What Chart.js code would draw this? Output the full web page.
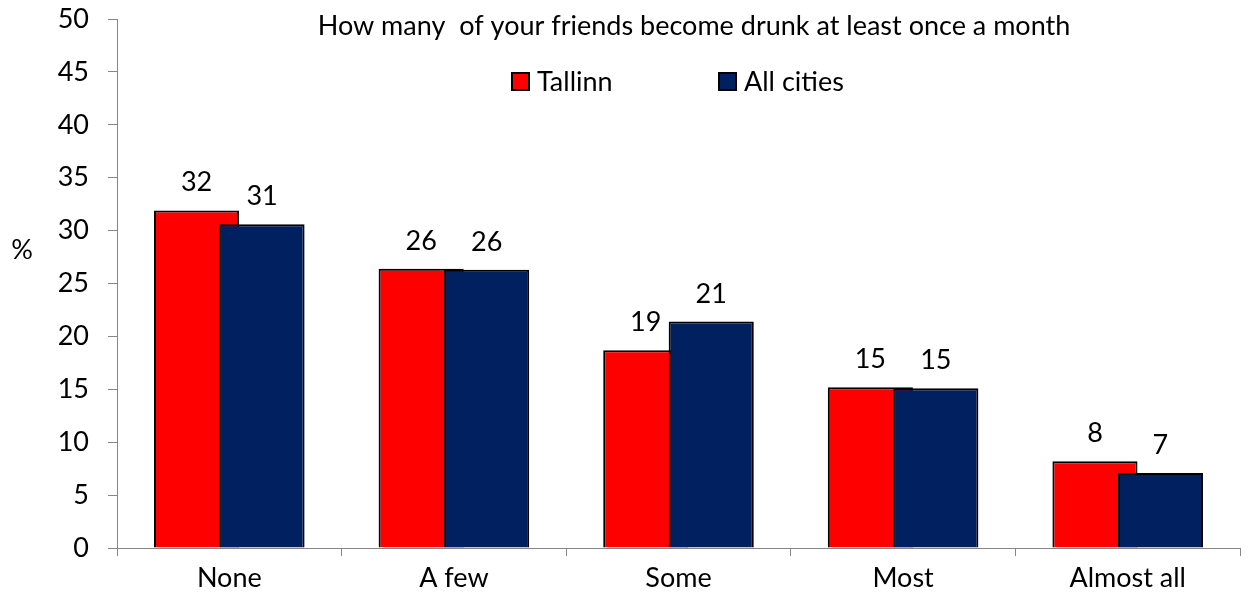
<!DOCTYPE html>
<html>
<head>
<meta charset="utf-8">
<script src="https://cdn.jsdelivr.net/npm/chart.js@4.4.1/dist/chart.umd.min.js"></script>
<style>
  html, body { margin: 0; padding: 0; background: #fff; }
  #wrap { position: relative; width: 1249px; height: 603px; }
</style>
</head>
<body>
<div id="wrap"><canvas id="chart"></canvas></div>
<script>
const categories = ["None", "A few", "Some", "Most", "Almost all"];
const seriesNames = ["Tallinn", "All cities"];
const tallinn = [31.9, 26.4, 18.7, 15.2, 8.2];
const allCities = [30.6, 26.3, 21.4, 15.1, 7.1];
const yTicks = [0, 5, 10, 15, 20, 25, 30, 35, 40, 45, 50];
const titleText = "How many  of your friends become drunk at least once a month";
const yLabel = "%";

const FONT = "Lato";
const FSIZE = 27;
const axisGrey = "#868686";

// chart.js paints the left bar of a group on top; the reference has the right one on top,
// so hold back dataset 1 and paint it after dataset 0
const drawOrder = {
    id: "drawOrder",
    beforeDatasetDraw(chart, args) {
        if (args.index === 1 && !chart.$manual) return false;
    },
    afterDatasetDraw(chart, args) {
        if (args.index === 0) {
            chart.$manual = true;
            chart.getDatasetMeta(1).controller.draw();
            chart.$manual = false;
        }
    },
};

// value labels above the bars, plus the title, legend and "%" drawn inside the plot
const extras = {
    id: "extras",
    afterDatasetsDraw(chart) {
        const ctx = chart.ctx;
        ctx.save();
        ctx.fillStyle = "#000";
        ctx.font = FSIZE + "px " + FONT;
        ctx.textAlign = "center";
        ctx.textBaseline = "alphabetic";
        chart.data.datasets.forEach((ds, i) => {
            chart.getDatasetMeta(i).data.forEach((bar, j) => {
                ctx.fillText(Math.round(ds.data[j]), bar.x, bar.y - 19);
            });
        });

        // title
        ctx.textBaseline = "middle";
        ctx.fillText(titleText, 694, 26);

        // "%" label
        ctx.fillText(yLabel, 22, 250);

        // legend
        const items = [
            { x: 512, ds: chart.data.datasets[0] },
            { x: 719, ds: chart.data.datasets[1] },
        ];
        ctx.textAlign = "left";
        items.forEach((it) => {
            ctx.fillStyle = it.ds.backgroundColor;
            ctx.fillRect(it.x, 73, 17, 17);
            ctx.strokeStyle = "#000";
            ctx.lineWidth = 2;
            ctx.strokeRect(it.x, 73, 17, 17);
            ctx.fillStyle = "#000";
            ctx.fillText(it.ds.label, it.x + 25, 82);
        });
        ctx.restore();
    },
};

new Chart(document.getElementById("chart"), {
    type: "bar",
    data: {
        labels: categories,
        datasets: [
            {
                label: seriesNames[0],
                data: tallinn,
                backgroundColor: "#FF0000",
                borderColor: "#000",
                borderWidth: 2,
                categoryPercentage: 0.583,
                barPercentage: 1.3,
            },
            {
                label: seriesNames[1],
                data: allCities,
                backgroundColor: "#002060",
                borderColor: "#000",
                borderWidth: 2,
                categoryPercentage: 0.583,
                barPercentage: 1.3,
            },
        ],
    },
    options: {
        responsive: true,
        maintainAspectRatio: false,
        animation: false,
        layout: { padding: { top: 19, right: 9, left: 0, bottom: 0 } },
        plugins: {
            legend: { display: false },
            title: { display: false },
            tooltip: { enabled: false },
        },
        scales: {
            x: {
                grid: {
                    display: true,
                    drawOnChartArea: false,
                    drawTicks: true,
                    tickLength: 8,
                    color: axisGrey,
                },
                border: { display: true, color: axisGrey, width: 1 },
                ticks: {
                    color: "#000",
                    font: { family: FONT, size: FSIZE },
                    padding: 6,
                },
                afterFit(scale) {
                    scale.height = 55;
                    scale.paddingLeft = 0;
                    scale.paddingRight = 0;
                },
            },
            y: {
                min: 0,
                max: 50,
                afterBuildTicks(scale) {
                    scale.ticks = yTicks.map((v) => ({ value: v }));
                },
                grid: {
                    display: true,
                    drawOnChartArea: false,
                    drawTicks: true,
                    tickLength: 9,
                    color: axisGrey,
                },
                border: { display: true, color: axisGrey, width: 1 },
                ticks: {
                    color: "#000",
                    font: { family: FONT, size: FSIZE },
                    padding: 19,
                },
                afterFit(scale) {
                    scale.width = 117;
                    scale.paddingTop = 0;
                    scale.paddingBottom = 0;
                },
            },
        },
    },
    plugins: [drawOrder, extras],
});
</script>
</body>
</html>
